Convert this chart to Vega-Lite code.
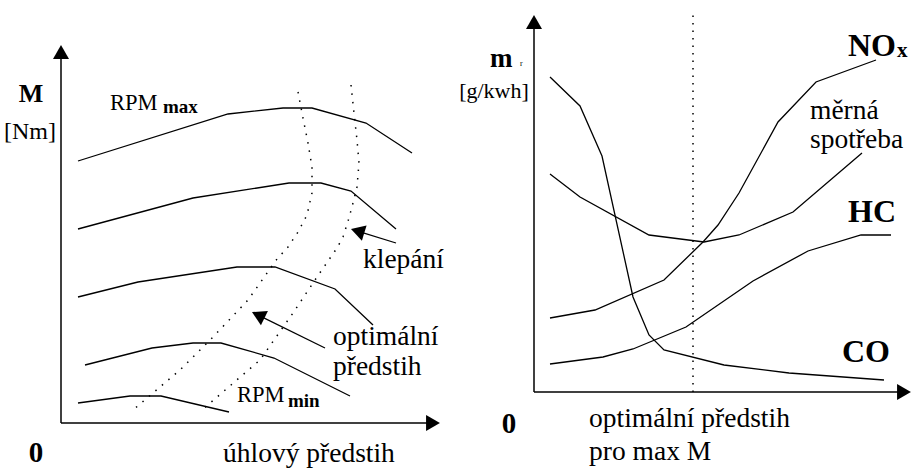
{
  "$schema": "https://vega.github.io/schema/vega-lite/v6.json",
  "padding": 0,
  "spacing": 0,
  "background": "white",
  "config": {"view": {"stroke": null}, "text": {"font": "Liberation Serif", "color": "black"}},
  "hconcat": [
    {
      "width": 456,
      "height": 468,
      "encoding": {
        "x": {"field": "x", "type": "quantitative", "scale": {"domain": [-61, 395], "nice": false, "zero": false}, "axis": null},
        "y": {"field": "y", "type": "quantitative", "scale": {"domain": [-45, 423], "nice": false, "zero": false}, "axis": null}
      },
      "layer": [
        {
          "data": {"values": [
            {"x": 0, "y": 0, "x2": 0, "y2": 368},
            {"x": 0, "y": 0, "x2": 373, "y2": 0}
          ]},
          "mark": {"type": "rule", "color": "black", "strokeWidth": 1.5},
          "encoding": {"x2": {"field": "x2"}, "y2": {"field": "y2"}}
        },
        {
          "data": {"values": [{"x": 0, "y": 371}]},
          "mark": {"type": "point", "shape": "triangle-up", "size": 256, "filled": true, "color": "black", "opacity": 1, "strokeWidth": 0},
          "encoding": {}
        },
        {
          "data": {"values": [{"x": 372, "y": 0}]},
          "mark": {"type": "point", "shape": "triangle-right", "size": 256, "filled": true, "color": "black", "opacity": 1, "strokeWidth": 0},
          "encoding": {}
        },
        {
          "data": {"values": [
            {"s": "n1", "i": 1, "x": 17, "y": 262}, {"s": "n1", "i": 2, "x": 167, "y": 309}, {"s": "n1", "i": 3, "x": 222, "y": 315}, {"s": "n1", "i": 4, "x": 251, "y": 315}, {"s": "n1", "i": 5, "x": 305, "y": 300}, {"s": "n1", "i": 6, "x": 351, "y": 270},
            {"s": "n2", "i": 1, "x": 17, "y": 194}, {"s": "n2", "i": 2, "x": 132, "y": 225}, {"s": "n2", "i": 3, "x": 228, "y": 240}, {"s": "n2", "i": 4, "x": 260, "y": 240}, {"s": "n2", "i": 5, "x": 290, "y": 232}, {"s": "n2", "i": 6, "x": 335, "y": 194},
            {"s": "n3", "i": 1, "x": 17, "y": 126}, {"s": "n3", "i": 2, "x": 77, "y": 141}, {"s": "n3", "i": 3, "x": 176, "y": 156}, {"s": "n3", "i": 4, "x": 214, "y": 156}, {"s": "n3", "i": 5, "x": 274, "y": 134}, {"s": "n3", "i": 6, "x": 312, "y": 98},
            {"s": "n4", "i": 1, "x": 24, "y": 58}, {"s": "n4", "i": 2, "x": 91, "y": 75}, {"s": "n4", "i": 3, "x": 132, "y": 80}, {"s": "n4", "i": 4, "x": 160, "y": 80}, {"s": "n4", "i": 5, "x": 213, "y": 65}, {"s": "n4", "i": 6, "x": 289, "y": 27},
            {"s": "n5", "i": 1, "x": 17, "y": 20}, {"s": "n5", "i": 2, "x": 69, "y": 27}, {"s": "n5", "i": 3, "x": 100, "y": 27}, {"s": "n5", "i": 4, "x": 168, "y": 11}
          ]},
          "mark": {"type": "line", "color": "black", "strokeWidth": 1.3},
          "encoding": {"detail": {"field": "s"}, "order": {"field": "i", "type": "quantitative"}}
        },
        {
          "data": {"values": [
            {"s": "opt", "i": 1, "x": 237, "y": 331}, {"s": "opt", "i": 2, "x": 242, "y": 305}, {"s": "opt", "i": 3, "x": 247, "y": 280}, {"s": "opt", "i": 4, "x": 251, "y": 256}, {"s": "opt", "i": 5, "x": 251, "y": 230}, {"s": "opt", "i": 6, "x": 246, "y": 208}, {"s": "opt", "i": 7, "x": 237, "y": 191}, {"s": "opt", "i": 8, "x": 227, "y": 176}, {"s": "opt", "i": 9, "x": 216, "y": 164}, {"s": "opt", "i": 10, "x": 187, "y": 123}, {"s": "opt", "i": 11, "x": 152, "y": 86}, {"s": "opt", "i": 12, "x": 119, "y": 53}, {"s": "opt", "i": 13, "x": 72, "y": 13},
            {"s": "klep", "i": 1, "x": 290, "y": 338}, {"s": "klep", "i": 2, "x": 293, "y": 310}, {"s": "klep", "i": 3, "x": 296, "y": 283}, {"s": "klep", "i": 4, "x": 298, "y": 260}, {"s": "klep", "i": 5, "x": 296, "y": 236}, {"s": "klep", "i": 6, "x": 292, "y": 220}, {"s": "klep", "i": 7, "x": 288, "y": 205}, {"s": "klep", "i": 8, "x": 282, "y": 186}, {"s": "klep", "i": 9, "x": 276, "y": 175}, {"s": "klep", "i": 10, "x": 256, "y": 146}, {"s": "klep", "i": 11, "x": 232, "y": 110}, {"s": "klep", "i": 12, "x": 199, "y": 63}, {"s": "klep", "i": 13, "x": 141, "y": 13}
          ]},
          "mark": {"type": "line", "color": "black", "strokeWidth": 1.5, "strokeDash": [1.5, 7]},
          "encoding": {"detail": {"field": "s"}, "order": {"field": "i", "type": "quantitative"}}
        },
        {
          "data": {"values": [
            {"x": 335, "y": 180, "x2": 296.6, "y2": 191.9},
            {"x": 264, "y": 75, "x2": 197.2, "y2": 107.9}
          ]},
          "mark": {"type": "rule", "color": "black", "strokeWidth": 1.3},
          "encoding": {"x2": {"field": "x2"}, "y2": {"field": "y2"}}
        },
        {
          "data": {"values": [{"x": 296.6, "y": 191.9}]},
          "mark": {"type": "point", "shape": "triangle-up", "size": 256, "angle": 287, "filled": true, "color": "black", "opacity": 1, "strokeWidth": 0},
          "encoding": {}
        },
        {
          "data": {"values": [{"x": 197.2, "y": 107.9}]},
          "mark": {"type": "point", "shape": "triangle-up", "size": 256, "angle": 296, "filled": true, "color": "black", "opacity": 1, "strokeWidth": 0},
          "encoding": {}
        },
        {
          "data": {"values": [
            {"x": 302, "y": 155, "t": "klepání"},
            {"x": 272, "y": 78, "t": "optimální"},
            {"x": 272, "y": 48, "t": "předstih"},
            {"x": 162, "y": -39, "t": "úhlový předstih"}
          ]},
          "mark": {"type": "text", "font": "Liberation Serif", "fontSize": 27.5, "align": "left", "baseline": "alphabetic", "color": "black"},
          "encoding": {"text": {"field": "t"}}
        },
        {
          "data": {"values": [{"x": -31, "y": 284, "t": "[Nm]"}]},
          "mark": {"type": "text", "font": "Liberation Serif", "fontSize": 24, "align": "center", "baseline": "alphabetic", "color": "black"},
          "encoding": {"text": {"field": "t"}}
        },
        {
          "data": {"values": [
            {"x": 49, "y": 313, "t": "RPM"},
            {"x": 176, "y": 21, "t": "RPM"}
          ]},
          "mark": {"type": "text", "font": "Liberation Serif", "fontSize": 22.5, "align": "left", "baseline": "alphabetic", "color": "black"},
          "encoding": {"text": {"field": "t"}}
        },
        {
          "data": {"values": [
            {"x": 102, "y": 310, "t": "max"},
            {"x": 227, "y": 16, "t": "min"}
          ]},
          "mark": {"type": "text", "font": "Liberation Serif", "fontSize": 19, "fontWeight": "bold", "align": "left", "baseline": "alphabetic", "color": "black"},
          "encoding": {"text": {"field": "t"}}
        },
        {
          "data": {"values": [{"x": -30, "y": 321, "t": "M"}]},
          "mark": {"type": "text", "font": "Liberation Serif", "fontSize": 26, "fontWeight": "bold", "align": "center", "baseline": "alphabetic", "color": "black"},
          "encoding": {"text": {"field": "t"}}
        },
        {
          "data": {"values": [{"x": -25, "y": -39, "t": "0"}]},
          "mark": {"type": "text", "font": "Liberation Serif", "fontSize": 29, "fontWeight": "bold", "align": "center", "baseline": "alphabetic", "color": "black"},
          "encoding": {"text": {"field": "t"}}
        }
      ]
    },
    {
      "width": 456,
      "height": 468,
      "encoding": {
        "x": {"field": "x", "type": "quantitative", "scale": {"domain": [-78, 378], "nice": false, "zero": false}, "axis": null},
        "y": {"field": "y", "type": "quantitative", "scale": {"domain": [-76, 392], "nice": false, "zero": false}, "axis": null}
      },
      "layer": [
        {
          "data": {"values": [
            {"x": 0, "y": 0, "x2": 0, "y2": 367},
            {"x": 0, "y": 0, "x2": 371, "y2": 0}
          ]},
          "mark": {"type": "rule", "color": "black", "strokeWidth": 1.5},
          "encoding": {"x2": {"field": "x2"}, "y2": {"field": "y2"}}
        },
        {
          "data": {"values": [{"x": 159, "y": 0, "x2": 159, "y2": 377}]},
          "mark": {"type": "rule", "color": "black", "strokeWidth": 1.5, "strokeDash": [1.5, 6]},
          "encoding": {"x2": {"field": "x2"}, "y2": {"field": "y2"}}
        },
        {
          "data": {"values": [{"x": 0, "y": 370}]},
          "mark": {"type": "point", "shape": "triangle-up", "size": 256, "filled": true, "color": "black", "opacity": 1, "strokeWidth": 0},
          "encoding": {}
        },
        {
          "data": {"values": [{"x": 370, "y": 0}]},
          "mark": {"type": "point", "shape": "triangle-right", "size": 256, "filled": true, "color": "black", "opacity": 1, "strokeWidth": 0},
          "encoding": {}
        },
        {
          "data": {"values": [
            {"s": "CO", "i": 1, "x": 16, "y": 315}, {"s": "CO", "i": 2, "x": 46, "y": 286}, {"s": "CO", "i": 3, "x": 68, "y": 236}, {"s": "CO", "i": 4, "x": 99, "y": 95}, {"s": "CO", "i": 5, "x": 115, "y": 57}, {"s": "CO", "i": 6, "x": 130, "y": 42}, {"s": "CO", "i": 7, "x": 190, "y": 27}, {"s": "CO", "i": 8, "x": 255, "y": 19}, {"s": "CO", "i": 9, "x": 350, "y": 12},
            {"s": "sp", "i": 1, "x": 16, "y": 218}, {"s": "sp", "i": 2, "x": 46, "y": 195}, {"s": "sp", "i": 3, "x": 115, "y": 157}, {"s": "sp", "i": 4, "x": 170, "y": 150}, {"s": "sp", "i": 5, "x": 205, "y": 157}, {"s": "sp", "i": 6, "x": 259, "y": 180}, {"s": "sp", "i": 7, "x": 328, "y": 239},
            {"s": "NOx", "i": 1, "x": 16, "y": 74}, {"s": "NOx", "i": 2, "x": 61, "y": 82}, {"s": "NOx", "i": 3, "x": 130, "y": 112}, {"s": "NOx", "i": 4, "x": 169, "y": 150}, {"s": "NOx", "i": 5, "x": 184, "y": 167}, {"s": "NOx", "i": 6, "x": 205, "y": 199}, {"s": "NOx", "i": 7, "x": 244, "y": 270}, {"s": "NOx", "i": 8, "x": 282, "y": 310}, {"s": "NOx", "i": 9, "x": 342, "y": 332},
            {"s": "HC", "i": 1, "x": 16, "y": 28}, {"s": "HC", "i": 2, "x": 69, "y": 35}, {"s": "HC", "i": 3, "x": 99, "y": 43}, {"s": "HC", "i": 4, "x": 152, "y": 65}, {"s": "HC", "i": 5, "x": 219, "y": 111}, {"s": "HC", "i": 6, "x": 274, "y": 141}, {"s": "HC", "i": 7, "x": 327, "y": 157}, {"s": "HC", "i": 8, "x": 357, "y": 157}
          ]},
          "mark": {"type": "line", "color": "black", "strokeWidth": 1.3},
          "encoding": {"detail": {"field": "s"}, "order": {"field": "i", "type": "quantitative"}}
        },
        {
          "data": {"values": [
            {"x": 276, "y": 273, "t": "měrná"},
            {"x": 276, "y": 244, "t": "spotřeba"},
            {"x": 55, "y": -35, "t": "optimální  předstih"},
            {"x": 55, "y": -68, "t": "pro max  M"}
          ]},
          "mark": {"type": "text", "font": "Liberation Serif", "fontSize": 27.5, "align": "left", "baseline": "alphabetic", "color": "black"},
          "encoding": {"text": {"field": "t"}}
        },
        {
          "data": {"values": [
            {"x": 314, "y": 336, "t": "NO"},
            {"x": 314, "y": 170, "t": "HC"},
            {"x": 308, "y": 30, "t": "CO"}
          ]},
          "mark": {"type": "text", "font": "Liberation Serif", "fontSize": 32, "fontWeight": "bold", "align": "left", "baseline": "alphabetic", "color": "black"},
          "encoding": {"text": {"field": "t"}}
        },
        {
          "data": {"values": [{"x": 363, "y": 335, "t": "x"}]},
          "mark": {"type": "text", "font": "Liberation Serif", "fontSize": 21, "fontWeight": "bold", "align": "left", "baseline": "alphabetic", "color": "black"},
          "encoding": {"text": {"field": "t"}}
        },
        {
          "data": {"values": [{"x": -44, "y": 325, "t": "m"}]},
          "mark": {"type": "text", "font": "Liberation Serif", "fontSize": 27, "fontWeight": "bold", "align": "left", "baseline": "alphabetic", "color": "black"},
          "encoding": {"text": {"field": "t"}}
        },
        {
          "data": {"values": [{"x": -14, "y": 326, "t": "r"}]},
          "mark": {"type": "text", "font": "Liberation Serif", "fontSize": 8, "align": "left", "baseline": "alphabetic", "color": "black"},
          "encoding": {"text": {"field": "t"}}
        },
        {
          "data": {"values": [{"x": -40, "y": 294, "t": "[g/kwh]"}]},
          "mark": {"type": "text", "font": "Liberation Serif", "fontSize": 22, "align": "center", "baseline": "alphabetic", "color": "black"},
          "encoding": {"text": {"field": "t"}}
        },
        {
          "data": {"values": [{"x": -25, "y": -41, "t": "0"}]},
          "mark": {"type": "text", "font": "Liberation Serif", "fontSize": 29, "fontWeight": "bold", "align": "center", "baseline": "alphabetic", "color": "black"},
          "encoding": {"text": {"field": "t"}}
        }
      ]
    }
  ]
}
